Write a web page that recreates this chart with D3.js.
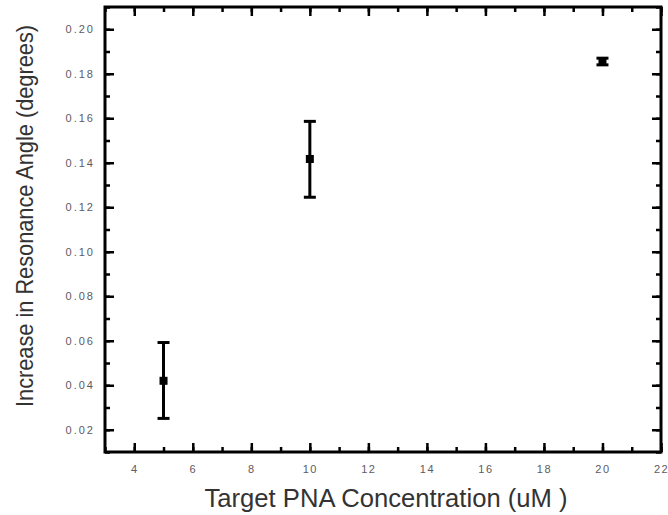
<!DOCTYPE html>
<html>
<head>
<meta charset="utf-8">
<script src="https://cdn.jsdelivr.net/npm/d3@7"></script>
<style>
  body { margin: 0; background: #fff; }
</style>
</head>
<body>
<script>
// data
var concentration = [5, 10, 20];
var angleIncrease = [0.042, 0.1417, 0.1855];
var errLow = [0.0251, 0.1245, 0.1840];
var errHigh = [0.0592, 0.1586, 0.1870];
var xTicks = [4, 6, 8, 10, 12, 14, 16, 18, 20, 22];
var yTicks = [0.02, 0.04, 0.06, 0.08, 0.10, 0.12, 0.14, 0.16, 0.18, 0.20];

var width = 668, height = 515;
// plot frame ("top" is taken by window.top, so prefix these)
var plotLeft = 105, plotRight = 661, plotTop = 7, plotBottom = 452;

var svg = d3.select("body").append("svg")
    .attr("width", width)
    .attr("height", height);

var x = d3.scaleLinear().domain([3, 22]).range([plotLeft, plotRight]);
var y = d3.scaleLinear().domain([0.01, 0.21]).range([plotBottom, plotTop]);

var xMinor = d3.range(3, 22.01, 1);
var yMinor = d3.range(0.01, 0.2101, 0.01);

function tickStyle(g) {
    g.select(".domain").remove();
    g.selectAll(".tick line").attr("stroke", "#000").attr("stroke-width", 2.5);
}

// bottom axis
svg.append("g")
    .attr("transform", "translate(0," + plotBottom + ")")
    .call(d3.axisBottom(x).tickValues(xMinor).tickSize(-5).tickFormat(""))
    .call(tickStyle);
svg.append("g")
    .attr("transform", "translate(0," + plotBottom + ")")
    .call(d3.axisBottom(x).tickValues(xTicks).tickSize(-9).tickPadding(13).tickFormat(d3.format("d")))
    .call(tickStyle)
    .selectAll("text")
    .attr("fill", "#5e5a62")
    .style("font", "11px 'Liberation Sans', Arial, sans-serif")
    .style("letter-spacing", "1.5px");

// top axis (mirror)
svg.append("g")
    .attr("transform", "translate(0," + plotTop + ")")
    .call(d3.axisTop(x).tickValues(xMinor).tickSize(-5).tickFormat(""))
    .call(tickStyle);
svg.append("g")
    .attr("transform", "translate(0," + plotTop + ")")
    .call(d3.axisTop(x).tickValues(xTicks).tickSize(-9).tickFormat(""))
    .call(tickStyle);

// left axis
svg.append("g")
    .attr("transform", "translate(" + plotLeft + ",0)")
    .call(d3.axisLeft(y).tickValues(yMinor).tickSize(-5).tickFormat(""))
    .call(tickStyle);
svg.append("g")
    .attr("transform", "translate(" + plotLeft + ",0)")
    .call(d3.axisLeft(y).tickValues(yTicks).tickSize(-9).tickPadding(10).tickFormat(d3.format(".2f")))
    .call(tickStyle)
    .selectAll("text")
    .attr("fill", "#5e5a62")
    .style("font", "11px 'Liberation Sans', Arial, sans-serif")
    .style("letter-spacing", "2px");

// right axis (mirror)
svg.append("g")
    .attr("transform", "translate(" + plotRight + ",0)")
    .call(d3.axisRight(y).tickValues(yMinor).tickSize(-5).tickFormat(""))
    .call(tickStyle);
svg.append("g")
    .attr("transform", "translate(" + plotRight + ",0)")
    .call(d3.axisRight(y).tickValues(yTicks).tickSize(-9).tickFormat(""))
    .call(tickStyle);

// frame
svg.append("rect")
    .attr("x", plotLeft).attr("y", plotTop)
    .attr("width", plotRight - plotLeft).attr("height", plotBottom - plotTop)
    .attr("fill", "none")
    .attr("stroke", "#000")
    .attr("stroke-width", 3);

// error bars
var pts = concentration.map(function (c, i) {
    return { x: c, y: angleIncrease[i], lo: errLow[i], hi: errHigh[i] };
});

var eb = svg.append("g").attr("stroke", "#000").attr("stroke-width", 3);
eb.selectAll("line.bar")
    .data(pts)
    .enter().append("line")
    .attr("x1", d => x(d.x)).attr("x2", d => x(d.x))
    .attr("y1", d => y(d.lo)).attr("y2", d => y(d.hi));
eb.selectAll("line.capHi")
    .data(pts)
    .enter().append("line")
    .attr("x1", d => x(d.x) - 6).attr("x2", d => x(d.x) + 6)
    .attr("y1", d => y(d.hi)).attr("y2", d => y(d.hi));
eb.selectAll("line.capLo")
    .data(pts)
    .enter().append("line")
    .attr("x1", d => x(d.x) - 6).attr("x2", d => x(d.x) + 6)
    .attr("y1", d => y(d.lo)).attr("y2", d => y(d.lo));

// markers
svg.selectAll("rect.pt")
    .data(pts)
    .enter().append("rect")
    .attr("x", d => x(d.x) - 4)
    .attr("y", d => y(d.y) - 4)
    .attr("width", 8).attr("height", 8)
    .attr("fill", "#000");

// axis titles
svg.append("text")
    .attr("x", 386)
    .attr("y", 507)
    .attr("text-anchor", "middle")
    .attr("fill", "#333")
    .attr("textLength", 363)
    .attr("lengthAdjust", "spacingAndGlyphs")
    .style("font", "25px 'Liberation Sans', Arial, sans-serif")
    .text("Target PNA Concentration (uM )");

svg.append("text")
    .attr("transform", "translate(33,216) rotate(-90)")
    .attr("text-anchor", "middle")
    .attr("fill", "#333")
    .attr("textLength", 382)
    .attr("lengthAdjust", "spacingAndGlyphs")
    .style("font", "24px 'Liberation Sans', Arial, sans-serif")
    .text("Increase in Resonance Angle (degrees)");
</script>
</body>
</html>
